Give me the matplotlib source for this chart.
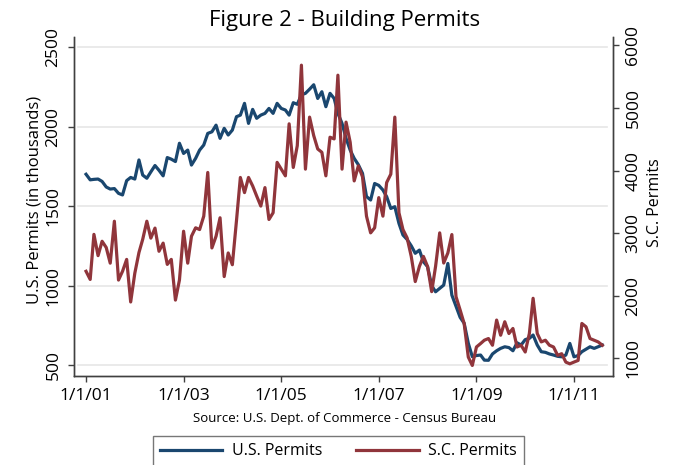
import matplotlib
matplotlib.use('Agg')
import matplotlib.pyplot as plt
import pandas as pd

# Monthly building permits, Jan 2001 - Aug 2011
# U.S. permits in thousands (left axis), S.C. permits (right axis)
us_permits = [
    1700, 1665, 1668, 1670, 1655, 1620, 1607, 1610, 1580, 1570, 1660, 1680,
    1670, 1790, 1695, 1675, 1715, 1755, 1725, 1690, 1805, 1795, 1780, 1895,
    1831, 1852, 1758, 1800, 1852, 1884, 1957, 1967, 2009, 1926, 1989, 1947,
    1978, 2062, 2072, 2146, 2020, 2108, 2052, 2072, 2083, 2114, 2083, 2146,
    2114, 2104, 2072, 2150, 2140, 2200, 2209, 2235, 2263, 2177, 2219, 2125,
    2209, 2177, 2083, 2020, 1926, 1852, 1800, 1760, 1706, 1560, 1538, 1642,
    1630, 1601, 1559, 1485, 1496, 1391, 1318, 1290, 1250, 1203, 1223, 1150,
    1119, 1000, 961, 982, 1003, 1139, 940, 870, 800, 763, 637, 553,
    560, 563, 531, 530, 570, 590, 605, 615, 610, 590, 640, 626,
    660, 668, 689, 626, 584, 580, 570, 563, 555, 552, 563, 636,
    552, 560, 584, 600, 615, 605, 615, 626,
]
sc_permits = [
    2390, 2260, 2980, 2640, 2870, 2770, 2520, 3190, 2250, 2390, 2580, 1900,
    2360, 2690, 2900, 3190, 2920, 3080, 2710, 2840, 2500, 2580, 1930, 2250,
    3030, 2520, 2950, 3085, 3057, 3271, 3969, 2763, 2950, 3245, 2306, 2683,
    2495, 3200, 3889, 3647, 3889, 3754, 3593, 3432, 3727, 3218, 3325, 4130,
    4022, 3915, 4746, 4049, 4397, 5683, 4022, 4853, 4558, 4344, 4291, 3915,
    4532, 4505, 5523, 4022, 4773, 4451, 3834, 4075, 3900, 3271, 3004, 3085,
    3567, 3271, 3808, 3942, 4853, 3325, 3057, 2924, 2628, 2226, 2468, 2628,
    2468, 2065, 2468, 3004, 2522, 2683, 2977, 1985, 1771, 1556, 1020, 886,
    1181, 1236, 1289, 1316, 1209, 1611, 1369, 1584, 1396, 1477, 1181, 1209,
    1101, 1396, 1959, 1396, 1262, 1289, 1209, 1181, 1047, 1074, 939, 912,
    940, 966, 1557, 1503, 1316, 1289, 1262, 1209,
]
x_tick_dates = ['2001-01-01', '2003-01-01', '2005-01-01', '2007-01-01', '2009-01-01', '2011-01-01']
x_tick_labels = ['1/1/01', '1/1/03', '1/1/05', '1/1/07', '1/1/09', '1/1/11']
us_ticks = [500, 1000, 1500, 2000, 2500]
sc_ticks = [1000, 2000, 3000, 4000, 5000, 6000]

months = pd.date_range('2001-01-01', periods=len(us_permits), freq='MS')

plt.rcParams['font.family'] = 'Open Sans'
spine_col = '#404040'

fig = plt.figure(figsize=(6.76, 4.65), dpi=100)
ax = fig.add_axes([0.1095, 0.192, 0.7973, 0.729])
ax2 = ax.twinx()

# light grid lines that stop just short of the axes, like Stata
for v in us_ticks:
    ax.axhline(v, xmin=0.007, xmax=0.989, color='#e6e6e6', lw=1.2, zorder=0)

l1, = ax.plot(months, us_permits, color='#1a476f', lw=2.3, label='U.S. Permits')
l2, = ax2.plot(months, sc_permits, color='#90353b', lw=2.3, label='S.C. Permits')

ax.set_xlim(pd.Timestamp('2000-10-03'), pd.Timestamp('2011-10-20'))
ax.set_ylim(433, 2565)
ax2.set_ylim(722, 6137)

ax.set_xticks(pd.to_datetime(x_tick_dates))
ax.set_xticklabels(x_tick_labels, fontsize=12.5)
ax.set_yticks(us_ticks)
ax.set_yticklabels([str(t) for t in us_ticks], fontsize=12.5, rotation=90, va='center')
ax2.set_yticks(sc_ticks)
ax2.set_yticklabels([str(t) for t in sc_ticks], fontsize=12.5, rotation=90, va='center')

ax.tick_params(axis='x', length=4, width=1, color=spine_col, pad=5)
ax.tick_params(axis='y', length=4, width=1, color=spine_col, pad=5)
ax2.tick_params(axis='y', length=4, width=1, color=spine_col, pad=5)

for a in (ax, ax2):
    a.spines['top'].set_visible(False)
    for s in ('left', 'right', 'bottom'):
        a.spines[s].set_color(spine_col)
        a.spines[s].set_linewidth(1)

ax.set_ylabel('U.S. Permits (in thousands)', fontsize=12)
ax.yaxis.set_label_coords(-0.058, 0.518)
ax2.set_ylabel('S.C. Permits', fontsize=11.5, rotation=90)
ax2.yaxis.set_label_coords(1.063, 0.512)

fig.text(0.51, 0.944, 'Figure 2 - Building Permits', fontsize=16, ha='center', va='baseline')
fig.text(0.509, 0.0925, 'Source: U.S. Dept. of Commerce - Census Bureau', fontsize=9.5,
         ha='center', va='baseline')

leg = fig.legend(handles=[l1, l2], ncol=2, loc='upper left', bbox_to_anchor=(153 / 676, 1 - 436 / 465),
                 fontsize=11.5, frameon=True, fancybox=False, handlelength=3.9, handletextpad=0.62,
                 columnspacing=2.1, borderpad=0.45, borderaxespad=0)
leg.get_frame().set_edgecolor('#555555')
leg.get_frame().set_linewidth(1)

fig.savefig('out.png', dpi=100)
